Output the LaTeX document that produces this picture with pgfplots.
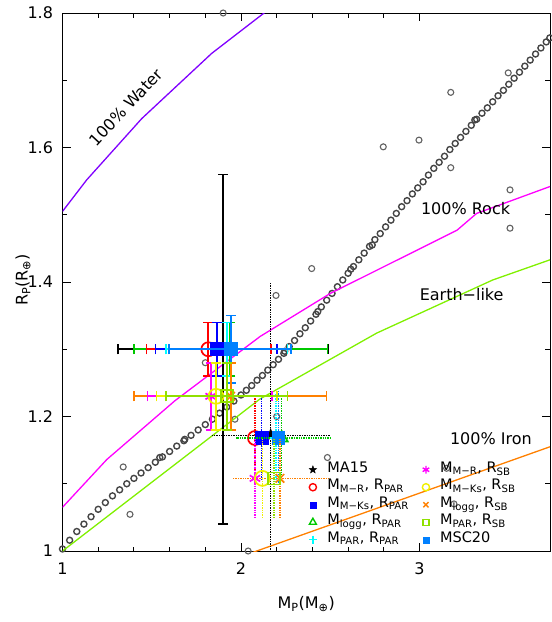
\documentclass[border=0pt]{standalone}
\usepackage{fontspec}
\setmainfont{DejaVu Sans}
\usepackage{pgfplots}
\pgfplotsset{compat=1.18}
\definecolor{cWater}{RGB}{128,0,255}
\definecolor{cRock}{RGB}{255,0,255}
\definecolor{cEarth}{RGB}{128,240,0}
\definecolor{cIron}{RGB}{255,128,0}
\definecolor{cGrey}{RGB}{70,70,70}
\definecolor{cRed}{RGB}{255,0,0}
\definecolor{cBlue}{RGB}{0,0,255}
\definecolor{cGreen}{RGB}{0,200,0}
\definecolor{cCyan}{RGB}{0,255,255}
\definecolor{cAzure}{RGB}{0,128,255}
\definecolor{cMag}{RGB}{255,0,255}
\definecolor{cYellow}{RGB}{240,240,0}
\definecolor{cOrange}{RGB}{255,128,0}
\definecolor{cChart}{RGB}{144,224,0}
\pgfdeclareplotmark{fstar}{%
  \pgfpathmoveto{\pgfpointpolar{90}{\pgfplotmarksize}}%
  \pgfpathlineto{\pgfpointpolar{126}{0.42\pgfplotmarksize}}%
  \pgfpathlineto{\pgfpointpolar{162}{\pgfplotmarksize}}%
  \pgfpathlineto{\pgfpointpolar{198}{0.42\pgfplotmarksize}}%
  \pgfpathlineto{\pgfpointpolar{234}{\pgfplotmarksize}}%
  \pgfpathlineto{\pgfpointpolar{270}{0.42\pgfplotmarksize}}%
  \pgfpathlineto{\pgfpointpolar{306}{\pgfplotmarksize}}%
  \pgfpathlineto{\pgfpointpolar{342}{0.42\pgfplotmarksize}}%
  \pgfpathlineto{\pgfpointpolar{18}{\pgfplotmarksize}}%
  \pgfpathlineto{\pgfpointpolar{54}{0.42\pgfplotmarksize}}%
  \pgfpathclose
  \pgfusepathqfillstroke}
\pgfplotsset{
  eb/.style={only marks, forget plot, color=#1, line width=1.8pt,
    mark options={line width=1.7pt, solid},
    /pgfplots/error bars/x dir=both, /pgfplots/error bars/x explicit,
    /pgfplots/error bars/y dir=both, /pgfplots/error bars/y explicit,
    /pgfplots/error bars/error mark=|,
    /pgfplots/error bars/error bar style={line width=1.8pt, color=#1, solid},
    /pgfplots/error bars/error mark options={mark size=5pt, line width=1.6pt, color=#1, solid}},
  ebd/.style={only marks, forget plot, color=#1, line width=1.8pt,
    mark options={line width=1.7pt, solid},
    /pgfplots/error bars/x dir=both, /pgfplots/error bars/x explicit,
    /pgfplots/error bars/y dir=both, /pgfplots/error bars/y explicit,
    /pgfplots/error bars/error bar style={line width=1.4pt, color=#1, densely dotted},
    /pgfplots/error bars/error mark=none},
}
\newcommand{\lab}{\fontsize{16}{16}\selectfont}
\begin{document}
\begin{tikzpicture}
\path[use as bounding box] (0,0) rectangle (552pt,622pt);
\begin{axis}[
  at={(62.5pt,71pt)}, anchor=south west,
  width=487.5pt, height=538pt, scale only axis,
  xmin=1, xmax=3.731, ymin=1, ymax=1.8,
  xtick={1,2,3}, minor x tick num=4,
  ytick={1,1.2,1.4,1.6,1.8}, minor y tick num=1,
  major tick length=8pt, minor tick length=4.5pt,
  tick style={black, line width=0.9pt},
  axis line style={line width=1pt},
  /pgf/number format/assume math mode=true,
  every tick label/.append style={font=\lab},
  yticklabel style={/pgf/number format/fixed, /pgf/number format/precision=1, xshift=-6pt},
  xticklabel style={yshift=-8pt},
  xlabel={M\textsubscript{P}(M\textsubscript{⊕})},
  ylabel={R\textsubscript{P}(R\textsubscript{⊕})},
  xlabel style={at={(axis description cs:0.5,-0.099)}, anchor=center, font=\lab},
  ylabel style={at={(axis description cs:-0.081,0.504)}, anchor=center, font=\lab},
  clip mode=individual,
  legend columns=2,
  legend cell align=left,
  legend image code/.code={\draw[#1] plot coordinates {(0pt,0pt)};},
  legend style={at={(axis description cs:0.505,0.1677)}, anchor=north west,
    draw=none, fill=none, inner sep=0pt,
    font=\fontsize{14.5}{15}\selectfont,
    nodes={inner sep=1.5pt, text height=10pt, text depth=4.5pt},
    /tikz/every odd column/.append style={column sep=9pt},
    /tikz/every even column/.append style={column sep=12pt},
    row sep=0pt},
]
% grey circles (chain)
\addplot[only marks, mark=o, mark size=3pt, color=cGrey, mark options={line width=1.4pt}, forget plot] coordinates {
(1.00,1.003)(1.04,1.016)(1.08,1.029)(1.12,1.040)(1.16,1.051)(1.20,1.062)(1.24,1.072)
(1.28,1.082)(1.32,1.091)(1.36,1.100)(1.40,1.108)(1.44,1.116)(1.48,1.124)(1.52,1.132)
(1.545,1.139)(1.56,1.140)(1.60,1.148)(1.64,1.156)(1.685,1.166)(1.68,1.164)(1.72,1.172)
(1.76,1.180)(1.80,1.188)(1.84,1.196)(1.88,1.205)(1.92,1.214)(1.96,1.223)(2.00,1.232)
(2.03,1.239)(2.06,1.246)(2.09,1.254)(2.12,1.261)(2.15,1.269)(2.18,1.277)(2.21,1.285)
(2.24,1.294)(2.245,1.297)(2.27,1.304)(2.30,1.313)(2.33,1.323)(2.36,1.332)(2.39,1.342)
(2.42,1.352)(2.43,1.356)(2.45,1.363)(2.48,1.373)(2.51,1.383)(2.54,1.393)(2.57,1.403)
(2.60,1.413)(2.615,1.419)(2.63,1.423)(2.66,1.433)(2.69,1.443)(2.72,1.453)(2.735,1.455)
(2.75,1.463)(2.78,1.472)(2.81,1.482)(2.84,1.492)(2.87,1.502)(2.90,1.512)(2.93,1.521)
(2.96,1.531)(2.99,1.540)(3.02,1.549)(3.05,1.559)(3.08,1.569)(3.11,1.578)(3.14,1.587)
(3.17,1.597)(3.20,1.606)(3.23,1.615)(3.26,1.624)(3.29,1.633)(3.31,1.641)(3.32,1.642)
(3.35,1.651)(3.38,1.659)(3.41,1.668)(3.44,1.677)(3.47,1.685)(3.50,1.694)(3.53,1.703)
(3.56,1.712)(3.59,1.721)(3.62,1.730)(3.65,1.739)(3.68,1.748)(3.71,1.757)(3.73,1.763)
};
% grey circles (scattered)
\addplot[only marks, mark=o, mark size=3pt, color=cGrey!85, mark options={line width=1.1pt}, forget plot] coordinates {
(1.90,1.800)(3.497,1.711)(3.175,1.682)(2.997,1.611)(2.797,1.601)(3.175,1.570)
(3.507,1.537)(3.507,1.480)(2.396,1.420)(2.196,1.380)(2.200,1.200)(1.966,1.196)
(2.484,1.139)(1.340,1.125)(1.378,1.0545)(2.040,1.000)(1.800,1.280)(3.152,1.123)(3.193,1.070)
};
% model curves
\addplot[cWater, line width=1.3pt, forget plot] coordinates {(1,1.505)(1.136,1.552)(1.444,1.643)(1.836,1.740)(2.134,1.801)(2.3,1.835)};
\addplot[cRock, line width=1.3pt, forget plot] coordinates {(1,1.065)(1.248,1.136)(1.63,1.2235)(2.107,1.319)(2.5,1.383)(3.21,1.477)(3.32,1.502)(3.731,1.542)};
\addplot[cEarth, line width=1.3pt, forget plot] coordinates {(1,1.0)(2.106,1.226)(2.76,1.324)(3.41,1.403)(3.731,1.433)};
\addplot[cIron, line width=1.3pt, forget plot] coordinates {(2.0,0.9915)(2.088,1.0)(3.731,1.155)};
% labels
\node[font=\lab, rotate=47] at (axis cs:1.356,1.660) {100\% Water};
\node[font=\lab] at (axis cs:3.258,1.509) {100\% Rock};
\node[font=\lab] at (axis cs:3.236,1.381) {Earth−like};
\node[font=\lab] at (axis cs:3.40,1.1665) {100\% Iron};
% ---- lower cluster (dotted) ----
\addplot[ebd=black, mark=fstar, mark size=5pt] coordinates {(2.166,1.172) += (0.334,0.228) -= (0.326,0.232)};
\addplot[ebd=cRed, mark=o, mark size=7pt] coordinates {(2.078,1.168) +- (0,0.064)};
\addplot[ebd=cBlue, mark=square*, mark size=6pt] coordinates {(2.116,1.168) +- (0,0.064)};
\addplot[ebd=cGreen, mark=triangle, mark size=7pt] coordinates {(2.228,1.168) += (0.272,0.064) -= (0.258,0.064)};
\addplot[ebd=cCyan, mark=+, mark size=6pt] coordinates {(2.196,1.168) +- (0,0.066)};
\addplot[ebd=cAzure, mark=square*, mark size=6pt] coordinates {(2.21,1.168) +- (0,0.07)};
\addplot[ebd=cOrange, mark=x, mark size=6pt] coordinates {(2.218,1.108) += (0.282,0.06) -= (0.268,0.06)};
\addplot[ebd=cMag, mark=asterisk, mark size=6pt] coordinates {(2.078,1.108) +- (0,0.06)};
\addplot[ebd=cYellow, mark=o, mark size=7.5pt] coordinates {(2.12,1.108) +- (0,0.06)};
\addplot[ebd=cChart, mark=square, mark size=6pt] coordinates {(2.185,1.108) +- (0,0.06)};
% ---- upper cluster (solid) ----
\addplot[eb=black, mark=fstar, mark size=5pt] coordinates {(1.90,1.30) += (0.59,0.26) -= (0.59,0.26)};
\addplot[eb=cGreen, mark=triangle, mark size=7pt] coordinates {(1.94,1.30) += (0.544,0.04) -= (0.538,0.04)};
\addplot[eb=cRed, mark=o, mark size=7pt] coordinates {(1.817,1.30) += (0.351,0.04) -= (0.346,0.04)};
\addplot[eb=cBlue, mark=square*, mark size=6pt] coordinates {(1.864,1.30) += (0.336,0.04) -= (0.342,0.04)};
\addplot[eb=cCyan, mark=+, mark size=6pt] coordinates {(1.92,1.30) +- (0.34,0.04)};
\addplot[eb=cAzure, mark=square*, mark size=6pt] coordinates {(1.942,1.30) += (0.338,0.05) -= (0.345,0.05)};
\addplot[eb=cOrange, mark=x, mark size=6pt] coordinates {(1.942,1.23) += (0.538,0.05) -= (0.542,0.05)};
\addplot[eb=cMag, mark=asterisk, mark size=6pt] coordinates {(1.83,1.23) += (0.342,0.05) -= (0.353,0.05)};
\addplot[eb=cYellow, mark=o, mark size=7.5pt] coordinates {(1.86,1.23) += (0.34,0.05) -= (0.333,0.05)};
\addplot[eb=cChart, mark=square, mark size=6pt] coordinates {(1.92,1.23) +- (0.34,0.05)};
% ---- legend ----
\addlegendimage{only marks, mark=fstar, mark size=4pt, black}
\addlegendentry{MA15}
\addlegendimage{only marks, mark=asterisk, mark size=3.8pt, cMag, mark options={line width=1.4pt}}
\addlegendentry{M\textsubscript{M−R}, R\textsubscript{SB}}
\addlegendimage{only marks, mark=o, mark size=3.6pt, cRed, mark options={line width=1.4pt}}
\addlegendentry{M\textsubscript{M−R}, R\textsubscript{PAR}}
\addlegendimage{only marks, mark=o, mark size=3.6pt, cYellow, mark options={line width=1.4pt}}
\addlegendentry{M\textsubscript{M−Ks}, R\textsubscript{SB}}
\addlegendimage{only marks, mark=square*, mark size=3pt, cBlue}
\addlegendentry{M\textsubscript{M−Ks}, R\textsubscript{PAR}}
\addlegendimage{only marks, mark=x, mark size=3.6pt, cOrange, mark options={line width=1.4pt}}
\addlegendentry{M\textsubscript{logg}, R\textsubscript{SB}}
\addlegendimage{only marks, mark=triangle, mark size=4pt, cGreen, mark options={line width=1.4pt}}
\addlegendentry{M\textsubscript{logg}, R\textsubscript{PAR}}
\addlegendimage{only marks, mark=square, mark size=3pt, cChart, mark options={line width=1.4pt}}
\addlegendentry{M\textsubscript{PAR}, R\textsubscript{SB}}
\addlegendimage{only marks, mark=+, mark size=4pt, cCyan, mark options={line width=1.4pt}}
\addlegendentry{M\textsubscript{PAR}, R\textsubscript{PAR}}
\addlegendimage{only marks, mark=square*, mark size=3pt, cAzure}
\addlegendentry{MSC20}
\end{axis}
\end{tikzpicture}
\end{document}
